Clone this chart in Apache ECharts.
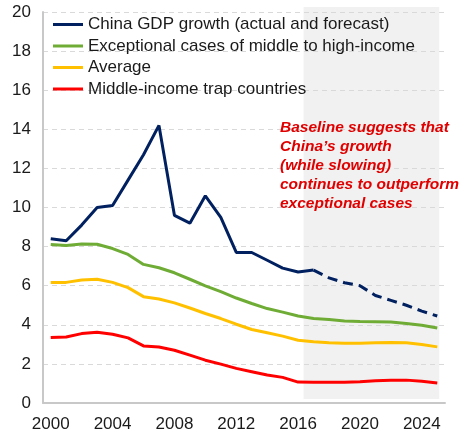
<!DOCTYPE html>
<html>
<head>
<meta charset="utf-8">
<script src="https://cdn.jsdelivr.net/npm/echarts@6/dist/echarts.min.js"></script>
<style>
  html, body { margin: 0; padding: 0; background: #fff; }
  #main { width: 462px; height: 438px; }
</style>
</head>
<body>
<div id="main"></div>
<script>
// years on the x axis
const years = ['2000', '2001', '2002', '2003', '2004', '2005', '2006', '2007', '2008', '2009',
  '2010', '2011', '2012', '2013', '2014', '2015', '2016', '2017', '2018', '2019',
  '2020', '2021', '2022', '2023', '2024', '2025']

// China GDP growth, actual (2000-2017) and forecast (2017-2025)
const chinaActual = [8.4, 8.3, 9.1, 10.0, 10.1, 11.4, 12.7, 14.2, 9.6, 9.2,
  10.6, 9.5, 7.7, 7.7, 7.3, 6.9, 6.7, 6.8]
const chinaForecast = [6.8, 6.4, 6.15, 6.0, 5.5, 5.25, 5.0, 4.7, 4.45]

const exceptional = [8.11, 8.06, 8.13, 8.12, 7.9, 7.6, 7.09, 6.92, 6.66, 6.33,
  5.99, 5.7, 5.37, 5.09, 4.83, 4.65, 4.45, 4.32, 4.27, 4.2,
  4.17, 4.16, 4.14, 4.07, 3.98, 3.84]
const average = [6.17, 6.17, 6.29, 6.33, 6.17, 5.9, 5.44, 5.32, 5.12, 4.86,
  4.58, 4.32, 4.03, 3.76, 3.59, 3.42, 3.21, 3.13, 3.08, 3.05,
  3.05, 3.08, 3.09, 3.08, 2.99, 2.87]
const trap = [3.35, 3.38, 3.55, 3.62, 3.52, 3.33, 2.92, 2.86, 2.7, 2.45,
  2.19, 1.99, 1.77, 1.6, 1.43, 1.31, 1.07, 1.06, 1.06, 1.06,
  1.09, 1.14, 1.17, 1.17, 1.11, 1.02]

const chinaName = 'China GDP growth (actual and forecast)'
const forecastStart = years.indexOf('2017')

// pad the forecast so it lines up with the years
const forecastFull = years.map((y, i) => i < forecastStart ? null : chinaForecast[i - forecastStart])

const font = 'Liberation Sans, Arial, sans-serif'

let myChart = echarts.init(document.getElementById('main'))

myChart.setOption({
  animation: false,
  textStyle: { fontFamily: font },
  grid: { left: 43, right: 17, top: 12, bottom: 35 },
  title: {
    text: 'Baseline suggests that\nChina\u2019s growth\n(while slowing)\ncontinues to outperform\nexceptional cases',
    left: 280,
    top: 118,
    padding: 0,
    textStyle: {
      color: '#e00000',
      fontSize: 15.5,
      fontWeight: 'bold',
      fontStyle: 'italic',
      lineHeight: 19,
      fontFamily: font
    }
  },
  legend: {
    orient: 'vertical',
    left: 53,
    top: 16,
    padding: 0,
    itemGap: 4.5,
    itemWidth: 30,
    itemHeight: 3,
    icon: 'rect',
    selectedMode: false,
    data: [chinaName, 'Exceptional cases of middle to high-income', 'Average', 'Middle-income trap countries'],
    textStyle: { fontSize: 17, color: '#1a1a1a', fontFamily: font }
  },
  xAxis: {
    type: 'category',
    data: years,
    boundaryGap: true,
    axisLine: { lineStyle: { color: '#c8c8c8', width: 2 } },
    axisTick: { show: false },
    axisLabel: { interval: 3, fontSize: 17, color: '#1a1a1a', margin: 13 }
  },
  yAxis: {
    type: 'value',
    min: 0,
    max: 20,
    interval: 2,
    axisLine: { show: true, lineStyle: { color: '#c8c8c8', width: 2 } },
    axisTick: { show: false },
    axisLabel: { fontSize: 17, color: '#1a1a1a', margin: 12 },
    splitLine: { lineStyle: { color: '#d9d9d9', type: [5, 4] } }
  },
  series: [
    {
      name: chinaName,
      type: 'line',
      data: chinaActual,
      symbol: 'none',
      lineStyle: { color: '#002060', width: 3 },
      itemStyle: { color: '#002060' },
      z: 5
    },
    {
      name: chinaName,
      type: 'line',
      data: forecastFull,
      symbol: 'none',
      lineStyle: { color: '#002060', width: 3, type: [10, 6] },
      itemStyle: { color: '#002060' },
      z: 5
    },
    {
      name: 'Exceptional cases of middle to high-income',
      type: 'line',
      data: exceptional,
      symbol: 'none',
      lineStyle: { color: '#6fac35', width: 3 },
      itemStyle: { color: '#6fac35' }
    },
    {
      name: 'Average',
      type: 'line',
      data: average,
      symbol: 'none',
      lineStyle: { color: '#ffc000', width: 3 },
      itemStyle: { color: '#ffc000' }
    },
    {
      name: 'Middle-income trap countries',
      type: 'line',
      data: trap,
      symbol: 'none',
      lineStyle: { color: '#ff0000', width: 3 },
      itemStyle: { color: '#ff0000' }
    }
  ]
})

// grey forecast band: from just after 2016 to the end of the axis
const x2016 = myChart.convertToPixel({ xAxisIndex: 0 }, '2016')
const x2017 = myChart.convertToPixel({ xAxisIndex: 0 }, '2017')
const x2025 = myChart.convertToPixel({ xAxisIndex: 0 }, '2025')
const yTop = myChart.convertToPixel({ yAxisIndex: 0 }, 20)
const yBottom = myChart.convertToPixel({ yAxisIndex: 0 }, 0)
const bandLeft = x2016 + (x2017 - x2016) * 0.35

myChart.setOption({
  graphic: [{
    type: 'rect',
    z: -1,
    silent: true,
    shape: { x: bandLeft, y: yTop - 5, width: x2025 + 2 - bandLeft, height: yBottom - 4 - (yTop - 5) },
    style: { fill: 'rgba(0, 0, 0, 0.055)' }
  }]
})
</script>
</body>
</html>
